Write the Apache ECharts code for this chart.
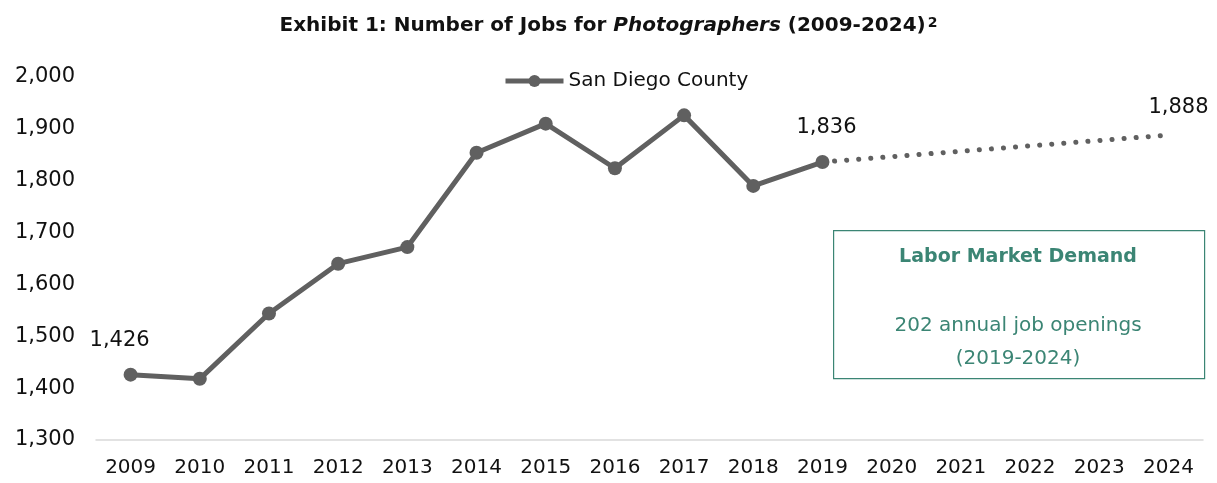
<!DOCTYPE html>
<html>
<head>
<meta charset="utf-8">
<script src="https://cdn.jsdelivr.net/npm/echarts@6/dist/echarts.min.js"></script>
<style>
  html, body { margin: 0; padding: 0; background: #fff; }
  #chart { width: 1217px; height: 483px; }
</style>
</head>
<body>
<div id="chart"></div>
<script>
const years = ["2009", "2010", "2011", "2012", "2013", "2014", "2015", "2016",
  "2017", "2018", "2019", "2020", "2021", "2022", "2023", "2024"];
// actual jobs 2009-2019
const jobs = [1426, 1418, 1544, 1640, 1672, 1854, 1910, 1824, 1926, 1790, 1836,
  null, null, null, null, null];
// projection: 2019 -> 2024
const projected = [null, null, null, null, null, null, null, null, null, null, 1836,
  null, null, null, null, 1888];
const labelOffsets = { "2009": [-11, 0], "2019": [4, 0] };

const FONT = "DejaVu Sans";
const GREY = "#606060";
const TEAL = "#3b8574";

const chart = echarts.init(document.getElementById("chart"));

const fmt = v => v.toLocaleString("en-US");

const option = {
  backgroundColor: "#fff",
  animation: false,
  title: {
    text: "{b|Exhibit 1: Number of Jobs for }{i|Photographers}{b| (2009-2024)}{s|2}",
    left: "center",
    top: 11,
    textStyle: {
      rich: {
        b: { fontFamily: FONT, fontWeight: "bold", fontSize: 20, color: "#111" },
        i: { fontFamily: FONT, fontWeight: "bold", fontStyle: "italic", fontSize: 20, color: "#111" },
        s: { fontFamily: FONT, fontSize: 14, color: "#111", verticalAlign: "top", padding: [0, 0, 6, 2] }
      }
    }
  },
  legend: {
    data: ["San Diego County"],
    top: 66,
    left: 498,
    itemWidth: 58,
    itemHeight: 15,
    itemGap: 3,
    lineStyle: { width: 5 },
    textStyle: { fontFamily: FONT, fontSize: 20, color: "#111" }
  },
  grid: { left: 96, right: 14, top: 77, bottom: 43 },
  xAxis: {
    type: "category",
    data: years,
    axisLine: { lineStyle: { color: "#d9d9d9", width: 1.5 } },
    axisTick: { show: false },
    axisLabel: { fontFamily: FONT, fontSize: 20, color: "#111", margin: 18 }
  },
  yAxis: {
    type: "value",
    min: 1300,
    max: 2000,
    interval: 100,
    splitLine: { show: false },
    axisLine: { show: false },
    axisTick: { show: false },
    axisLabel: { fontFamily: FONT, fontSize: 21, color: "#111", margin: 21, formatter: fmt }
  },
  series: [
    {
      name: "San Diego County",
      type: "line",
      data: jobs.map((v, i) => ({
        value: v,
        label: labelOffsets[years[i]]
          ? { show: true, offset: labelOffsets[years[i]] }
          : { show: false }
      })),
      symbol: "circle",
      symbolSize: 14,
      lineStyle: { color: GREY, width: 5 },
      itemStyle: { color: GREY },
      label: {
        position: "top",
        distance: 17,
        fontFamily: FONT,
        fontSize: 21,
        color: "#111",
        formatter: p => fmt(p.value)
      },
      z: 3
    },
    {
      name: "Projection",
      type: "line",
      data: projected,
      connectNulls: true,
      symbol: "none",
      lineStyle: { color: GREY, width: 5, type: [0.1, 12], cap: "round" },
      endLabel: {
        show: true,
        offset: [-28, -28],
        fontFamily: FONT,
        fontSize: 21,
        color: "#111",
        formatter: p => fmt(p.value)
      },
      z: 2
    }
  ],
  graphic: [
    {
      type: "rect",
      left: 833,
      top: 230,
      shape: { width: 371, height: 148 },
      style: { fill: "#fff", stroke: TEAL, lineWidth: 1.2 }
    },
    {
      type: "text",
      x: 1018,
      y: 248,
      style: {
        text: "Labor Market Demand",
        align: "center",
        fontFamily: FONT,
        fontWeight: "bold",
        fontSize: 19,
        fill: TEAL
      }
    },
    {
      type: "text",
      x: 1018,
      y: 309,
      style: {
        text: "202 annual job openings\n(2019-2024)",
        align: "center",
        lineHeight: 33,
        fontFamily: FONT,
        fontSize: 20,
        fill: TEAL
      }
    }
  ]
};

chart.setOption(option);
</script>
</body>
</html>
